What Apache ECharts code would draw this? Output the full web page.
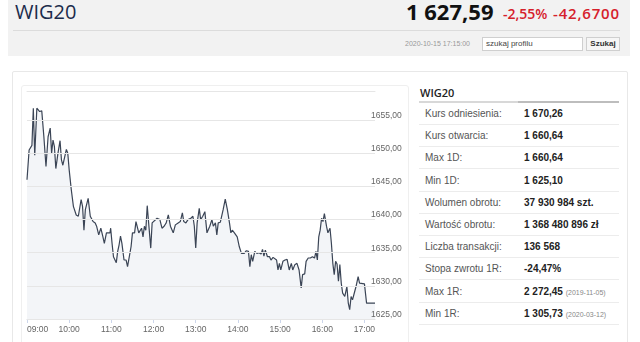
<!DOCTYPE html>
<html>
<head>
<meta charset="utf-8">
<script src="https://cdn.jsdelivr.net/npm/echarts@6/dist/echarts.min.js"></script>
<style>
html,body{margin:0;padding:0;width:640px;height:342px;overflow:hidden;background:#fff;font-family:"Liberation Sans",Arial,sans-serif;}
.abs{position:absolute;white-space:nowrap;}
#hdr{left:8px;top:0;width:622px;height:56px;background:#f2f2f2;}
#panel{left:12px;top:71px;width:614px;height:290px;border:1px solid #e8e8e8;border-radius:2px;}
#cbox{left:21px;top:85px;width:386px;height:270px;border:1px solid #efefef;border-radius:3px;}
#chart{left:20px;top:84px;width:390px;height:258px;}
.row{position:absolute;left:419px;width:200px;height:21px;border-bottom:1px solid #ececec;}
.lab{position:absolute;left:6px;top:0;line-height:21px;font-size:10px;color:#555;}
.val{position:absolute;left:105px;top:0;line-height:21px;font-size:10px;font-weight:bold;color:#222;}
.val small{font-weight:normal;font-size:7px;color:#888;}
</style>
</head>
<body>
<div id="hdr" class="abs"></div>
<div class="abs" style="left:15px;top:2px;font-family:'Open Sans';font-size:20px;line-height:20px;color:#1b2b4b;">WIG20</div>
<div class="abs" style="left:406px;top:0px;font-family:'Open Sans';font-weight:bold;font-size:22px;line-height:22px;color:#111;">1 627,59</div>
<div class="abs" style="left:503px;top:5px;font-family:'Open Sans';font-weight:600;font-size:14px;line-height:18px;color:#d6202b;">-2,55%</div>
<div class="abs" style="left:553px;top:4px;font-family:'Open Sans';font-weight:600;font-size:15px;line-height:18px;color:#d6202b;letter-spacing:0.8px;">-42,6700</div>
<div class="abs" style="left:13px;top:30px;width:607px;height:1px;background:#dcdcdc;"></div>
<div class="abs" style="left:405px;top:39px;font-size:7px;line-height:10px;color:#999;">2020-10-15 17:15:00</div>
<div class="abs" style="left:482px;top:37px;width:99px;height:12px;background:#fff;border:1px solid #cfcfcf;"></div>
<div class="abs" style="left:486px;top:38px;font-size:8px;line-height:12px;color:#444;">szukaj profilu</div>
<div class="abs" style="left:586px;top:37px;width:32px;height:12px;background:#f6f6f6;border:1px solid #cfcfcf;font-size:8px;line-height:12px;font-weight:bold;color:#333;text-align:center;">Szukaj</div>

<div id="panel" class="abs"></div>
<div id="cbox" class="abs"></div>
<div id="chart" class="abs"></div>

<div class="abs" style="left:420px;top:86px;font-family:'Open Sans';font-weight:600;font-size:11px;line-height:14px;color:#222;">WIG20</div>
<div class="abs" style="left:419px;top:101px;width:200px;height:2px;background:#d8d8d8;"></div>
<div class="abs" style="left:518px;top:101px;width:101px;height:2px;background:#bdbdbd;"></div>
<div id="tbl"></div>

<script>
// ---- data ----
const times = ["09:00","09:03","09:07","09:09","09:11","09:14","09:18","09:20","09:21","09:24","09:27","09:30","09:33","09:35","09:37","09:39","09:41","09:44","09:47","09:49","09:51","09:53","09:56","09:58",
"10:00","10:03","10:06","10:10","10:13","10:17","10:19","10:21","10:23","10:27","10:30","10:34","10:37","10:39","10:42","10:45","10:48","10:50","10:53","10:58","10:59",
"11:01","11:03","11:07","11:09","11:11","11:13","11:15","11:18","11:19","11:21","11:23","11:25","11:28","11:30","11:33","11:35","11:37","11:39","11:40","11:43","11:45","11:47","11:49","11:51","11:53","11:56","11:58",
"12:00","12:05","12:09","12:12","12:15","12:18","12:21","12:24","12:28","12:31","12:35","12:38","12:41","12:43","12:46","12:49","12:53","12:56","12:58",
"13:00","13:02","13:05","13:07","13:10","13:13","13:16","13:18","13:20","13:23","13:25","13:28","13:30","13:32","13:35","13:37","13:39","13:42","13:45","13:48","13:50","13:52","13:55","13:57","13:59",
"14:02","14:05","14:09","14:12","14:15","14:17","14:19","14:21","14:24","14:27","14:30","14:33","14:35","14:37","14:39","14:42","14:45","14:47","14:50","14:52","14:55","14:57","14:59",
"15:01","15:04","15:07","15:10","15:13","15:16","15:18","15:21","15:24","15:27","15:30","15:32","15:35","15:37","15:40","15:43","15:46","15:49","15:51","15:53","15:55","15:57","15:59",
"16:01","16:03","16:06","16:08","16:11","16:13","16:15","16:17","16:19","16:21","16:23","16:25","16:27","16:29","16:32","16:35","16:37","16:39","16:41","16:43","16:45","16:48","16:51","16:53",
"17:00","17:03","17:15"];
const values = [1646.0,1650.5,1651.2,1656.8,1649.7,1656.8,1656.3,1656.0,1656.4,1652.5,1648.0,1652.5,1653.8,1650.0,1652.0,1651.0,1647.7,1650.0,1651.9,1649.0,1648.2,1648.5,1650.6,1650.0,
1647.5,1644.5,1642.0,1640.7,1640.5,1643.0,1642.0,1638.4,1641.5,1643.2,1640.5,1639.7,1639.5,1639.0,1637.7,1638.7,1637.4,1636.4,1638.0,1638.0,1638.7,
1636.4,1634.4,1633.5,1635.2,1636.2,1637.5,1636.4,1633.9,1633.7,1633.9,1632.9,1632.8,1635.9,1638.0,1638.0,1639.7,1639.9,1638.0,1638.2,1638.7,1637.4,1639.0,1638.4,1642.1,1642.2,1635.7,1639.5,
1639.7,1640.2,1640.0,1638.7,1639.0,1639.5,1640.7,1639.0,1638.0,1639.2,1639.5,1639.7,1641.0,1639.7,1639.5,1640.0,1640.2,1640.5,1639.0,
1635.7,1639.5,1641.7,1640.0,1640.5,1641.2,1638.0,1638.0,1639.0,1640.0,1639.0,1639.5,1637.7,1639.5,1639.6,1639.7,1641.5,1643.1,1641.5,1639.5,1638.0,1638.4,1638.0,1637.7,1637.4,
1635.9,1634.9,1634.9,1635.3,1635.2,1632.9,1634.7,1633.7,1635.2,1634.9,1635.0,1634.8,1635.5,1634.5,1635.4,1634.4,1634.4,1633.9,1634.3,1634.0,1633.9,1632.4,1633.4,
1632.4,1633.7,1633.9,1634.0,1632.4,1633.4,1632.4,1633.2,1633.4,1632.4,1629.7,1631.7,1631.8,1633.7,1634.2,1634.2,1634.4,1634.2,1635.2,1633.9,1637.4,1638.4,1640.2,
1639.7,1640.9,1639.0,1638.0,1638.7,1636.4,1633.4,1631.7,1633.7,1633.3,1630.7,1633.2,1630.4,1628.9,1628.4,1629.9,1627.4,1626.4,1628.4,1627.9,1628.7,1629.9,1631.4,1630.4,
1630.3,1627.4,1627.4];
const hourLabels = ["09:00","10:00","11:00","12:00","13:00","14:00","15:00","16:00","17:00"];
const yTicks = [1625,1630,1635,1640,1645,1650,1655];

const infoLabels = ["Kurs odniesienia:","Kurs otwarcia:","Max 1D:","Min 1D:","Wolumen obrotu:","Wartość obrotu:","Liczba transakcji:","Stopa zwrotu 1R:","Max 1R:","Min 1R:"];
const infoValues = ["1 670,26","1 660,64","1 660,64","1 625,10","37 930 984 szt.","1 368 480 896 zł","136 568","-24,47%","2 272,45","1 305,73"];
const infoDates = ["","","","","","","","","(2019-11-05)","(2020-03-12)"];

// ---- table ----
const tbl = document.getElementById('tbl');
infoLabels.forEach((l,i)=>{
  const r = document.createElement('div');
  r.className='row';
  r.style.top = (103 + i*22.2) + 'px';
  r.innerHTML = '<div class="lab">'+l+'</div><div class="val">'+infoValues[i]+(infoDates[i]?' <small>'+infoDates[i]+'</small>':'')+'</div>';
  tbl.appendChild(r);
});

// ---- chart ----
const toMin = t => { const [h,m] = t.split(':').map(Number); return (h-9)*60+m; };
const fmtMin = v => { const h = 9+Math.floor(v/60), m = v%60; return (h<10?'0':'')+h+':'+(m<10?'0':'')+m; };
const seriesData = times.map((t,i)=>[toMin(t), values[i]]);

const chart = echarts.init(document.getElementById('chart'), null, {renderer:'canvas'});
chart.setOption({
  animation:false,
  grid:{left:7,right:35,top:7,bottom:23},
  xAxis:[{
    type:'value', min:0, max:toMin("17:15"),
    axisLine:{show:true,lineStyle:{color:'#d8dde6',width:1}},
    axisTick:{show:true,length:4,lineStyle:{color:'#ccd6eb'},customValues:hourLabels.map(toMin)},
    axisLabel:{color:'#666',fontSize:8.5,fontFamily:'Liberation Sans',margin:6,
      customValues:hourLabels.map(toMin),formatter:v=>fmtMin(v),alignMinLabel:'left'},
    splitLine:{show:false}
  },{
    type:'value', position:'top', min:0, max:toMin("17:15"),
    axisLine:{show:true,lineStyle:{color:'#e6e6e6',width:1}},
    axisTick:{show:false}, axisLabel:{show:false}, splitLine:{show:false}
  }],
  yAxis:{
    type:'value', position:'right', min:1625, max:1659.4, interval:5, z:10,
    axisLine:{show:false}, axisTick:{show:false},
    axisLabel:{color:'#666',fontSize:8.5,fontFamily:'Liberation Sans',margin:-4,verticalAlign:'bottom',
      showMaxLabel:false,
      formatter:v=> yTicks.indexOf(Math.round(v*100)/100)>=0 ? v.toFixed(2).replace('.',',') : ''},
    splitLine:{show:true,lineStyle:{color:'#e6e6e6',width:1}}
  },
  series:[{
    type:'line', data:seriesData, showSymbol:false, symbol:'none', xAxisIndex:0,
    lineStyle:{color:'#3b4556',width:1.2},
    areaStyle:{color:'#f3f5f8',opacity:1},
    z:2
  }]
});
</script>
</body>
</html>
